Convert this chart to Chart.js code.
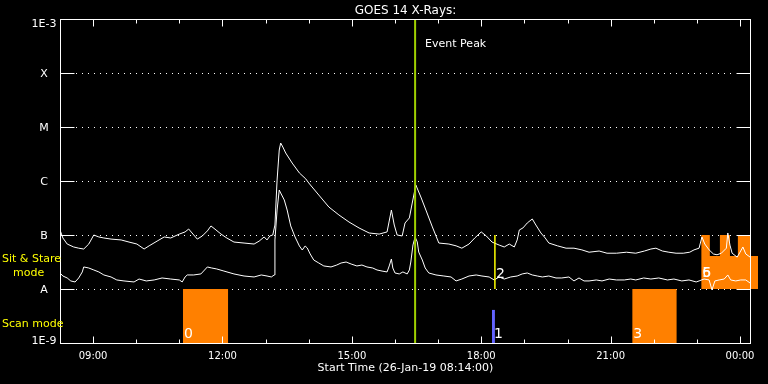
<!DOCTYPE html>
<html>
<head>
<meta charset="utf-8">
<script src="https://cdn.jsdelivr.net/npm/chart.js@4.4.1/dist/chart.umd.min.js"></script>
<style>
  html, body { margin: 0; padding: 0; background: #000; }
  canvas { display: block; }
</style>
</head>
<body>
<canvas id="goesChart" width="768" height="384"></canvas>
<script>
// times are minutes after the start time, 26-Jan-19 08:14:00
const END_MIN = 960;

// 1-8 A channel (upper curve)
const longTimes = [
  0, 4, 10, 19, 26, 33, 40, 47, 54, 61,
  71, 85, 96, 107, 117, 124, 135, 145, 154, 166,
  174, 179, 185, 191, 198, 205, 210, 217, 224, 232,
  242, 256, 270, 277, 284, 288, 292, 296, 299, 302,
  305, 307, 310, 314, 323, 333, 342, 346, 360, 374,
  388, 402, 416, 430, 444, 455, 461, 465, 469, 476,
  480, 486, 490, 495, 502, 509, 518, 527, 541, 551,
  559, 569, 577, 586, 593, 601, 611, 618, 625, 632,
  636, 639, 644, 650, 657, 662, 669, 675, 680, 692,
  704, 715, 726, 736, 750, 761, 774, 788, 801, 813,
  822, 829, 838, 847, 857, 867, 876, 882, 889, 893,
  897, 903, 909, 914, 920, 927, 929, 932, 935, 942,
  946, 950, 954, 960
];
const longFlux = [
  1.24e-7, 8.8e-8, 6.8e-8, 6.0e-8, 5.7e-8, 5.5e-8, 6.8e-8, 1.0e-7, 9.2e-8, 8.8e-8,
  8.4e-8, 8.1e-8, 7.4e-8, 6.8e-8, 5.5e-8, 6.3e-8, 7.7e-8, 9.2e-8, 8.8e-8, 1.04e-7,
  1.14e-7, 1.29e-7, 1.04e-7, 8.4e-8, 9.6e-8, 1.19e-7, 1.47e-7, 1.24e-7, 1.04e-7, 8.8e-8,
  7.4e-8, 7.1e-8, 6.8e-8, 7.7e-8, 9.2e-8, 8.1e-8, 9.6e-8, 1.0e-7, 1.53e-7, 1.04e-6,
  3.75e-6, 5.05e-6, 4.26e-6, 3.30e-6, 2.15e-6, 1.41e-6, 1.09e-6, 9.2e-7, 5.5e-7, 3.3e-7,
  2.35e-7, 1.74e-7, 1.35e-7, 1.09e-7, 1.04e-7, 1.14e-7, 2.9e-7, 1.53e-7, 1.0e-7, 9.6e-8,
  1.67e-7, 2.07e-7, 3.91e-7, 8.43e-7, 5.05e-7, 2.9e-7, 1.41e-7, 7.1e-8, 6.8e-8, 6.3e-8,
  5.7e-8, 6.8e-8, 8.8e-8, 1.14e-7, 9.6e-8, 7.4e-8, 6.5e-8, 6.0e-8, 6.8e-8, 6.0e-8,
  8.1e-8, 1.24e-7, 1.35e-7, 1.67e-7, 1.98e-7, 1.53e-7, 1.09e-7, 8.8e-8, 7.1e-8, 6.3e-8,
  5.7e-8, 5.7e-8, 5.3e-8, 4.8e-8, 5.05e-8, 4.6e-8, 4.6e-8, 4.8e-8, 4.6e-8, 5.05e-8,
  5.5e-8, 5.7e-8, 5.05e-8, 4.8e-8, 4.6e-8, 4.6e-8, 4.8e-8, 5.3e-8, 5.7e-8, 9.2e-8,
  6.8e-8, 5.3e-8, 4.45e-8, 4.3e-8, 4.6e-8, 5.7e-8, 1.09e-7, 6.5e-8, 4.6e-8, 3.9e-8,
  4.8e-8, 6.0e-8, 4.45e-8, 3.9e-8
];

// 0.5-4 A channel (lower curve)
const shortTimes = [
  0, 4, 10, 15, 21, 26, 31, 33, 40, 47,
  54, 61, 71, 79, 89, 103, 110, 120, 131, 142,
  154, 166, 170, 174, 177, 186, 196, 205, 211, 218,
  228, 242, 256, 270, 280, 288, 294, 298, 299, 302,
  305, 307, 312, 316, 321, 327, 333, 337, 341, 344,
  348, 353, 360, 367, 377, 385, 391, 398, 405, 413,
  420, 427, 435, 441, 448, 455, 458, 461, 463, 466,
  472, 477, 483, 486, 488, 491, 494, 497, 499, 504,
  508, 513, 523, 534, 544, 551, 559, 569, 579, 587,
  597, 604, 611, 618, 627, 636, 643, 650, 657, 664,
  671, 680, 690, 698, 708, 715, 722, 729, 736, 746,
  754, 764, 774, 785, 794, 801, 812, 822, 833, 845,
  854, 865, 875, 885, 889, 896, 903, 907, 911, 917,
  924, 929, 933, 940, 947, 954, 960
];
const shortFlux = [
  1.98e-8, 1.74e-8, 1.60e-8, 1.41e-8, 1.35e-8, 1.60e-8, 2.07e-8, 2.56e-8, 2.45e-8, 2.25e-8,
  2.07e-8, 1.82e-8, 1.67e-8, 1.47e-8, 1.41e-8, 1.35e-8, 1.53e-8, 1.41e-8, 1.47e-8, 1.60e-8,
  1.53e-8, 1.47e-8, 1.35e-8, 1.67e-8, 1.82e-8, 1.82e-8, 1.90e-8, 2.56e-8, 2.45e-8, 2.35e-8,
  2.15e-8, 1.90e-8, 1.74e-8, 1.67e-8, 1.82e-8, 1.74e-8, 1.67e-8, 1.82e-8, 8.08e-8, 2.9e-7,
  6.8e-7, 6.0e-7, 4.45e-7, 2.9e-7, 1.47e-7, 9.18e-8, 6.26e-8, 5.27e-8, 6.26e-8, 5.74e-8,
  4.45e-8, 3.44e-8, 3.03e-8, 2.67e-8, 2.56e-8, 2.78e-8, 3.03e-8, 3.16e-8, 2.90e-8, 2.67e-8,
  2.78e-8, 2.56e-8, 2.45e-8, 2.25e-8, 2.15e-8, 2.07e-8, 2.67e-8, 3.59e-8, 2.45e-8, 1.98e-8,
  1.90e-8, 2.07e-8, 1.90e-8, 2.25e-8, 3.16e-8, 6.53e-8, 9.18e-8, 7.42e-8, 4.84e-8, 3.44e-8,
  2.45e-8, 1.98e-8, 1.82e-8, 1.74e-8, 1.67e-8, 1.41e-8, 1.53e-8, 1.74e-8, 1.82e-8, 1.74e-8,
  1.67e-8, 1.47e-8, 1.67e-8, 1.53e-8, 1.67e-8, 1.74e-8, 1.90e-8, 1.98e-8, 1.82e-8, 1.74e-8,
  1.67e-8, 1.74e-8, 1.60e-8, 1.60e-8, 1.67e-8, 1.41e-8, 1.60e-8, 1.41e-8, 1.41e-8, 1.47e-8,
  1.41e-8, 1.53e-8, 1.47e-8, 1.47e-8, 1.53e-8, 1.47e-8, 1.60e-8, 1.53e-8, 1.60e-8, 1.47e-8,
  1.53e-8, 1.41e-8, 1.47e-8, 1.35e-8, 1.41e-8, 1.53e-8, 1.47e-8, 9.6e-9, 1.41e-8, 1.47e-8,
  1.53e-8, 1.82e-8, 1.47e-8, 1.41e-8, 1.47e-8, 1.47e-8, 1.29e-8
];

// observing modes
const peakTime = 494;
const scanStart = [171, 796];
const scanEnd = [234, 858];
const scanLabels = ['0', '3'];
const shortScanStart = 601, shortScanEnd = 605, shortScanTop = 4.1e-9;
const stareLineTime = 605;
const stareTimes = [892, 904, 918, 932, 943, 960, 971];
const stareTop = [1e-7, 4.1e-8, 1e-7, 4.1e-8, 1e-7, 4.1e-8, 4.1e-8];

// axes
const fluxTicks = [1e-9, 1e-8, 1e-7, 1e-6, 1e-5, 1e-4, 1e-3];
const fluxTickLabels = ['1E-9', 'A', 'B', 'C', 'M', 'X', '1E-3'];
const timeTicks = [46, 226, 406, 586, 766, 946];
const timeTickLabels = ['09:00', '12:00', '15:00', '18:00', '21:00', '00:00'];

const ORANGE = '#ff8000';
const FONT = '"DejaVu Sans", sans-serif';

function pts(xs, ys) {
    return xs.map((x, i) => ({ x: x, y: ys[i] }));
}

function block(x0, x1, top, bottom, color) {
    return {
        data: [{ x: x0, y: top }, { x: x1, y: top }],
        fill: { value: bottom },
        backgroundColor: color,
        borderColor: 'rgba(0,0,0,0)',
        borderWidth: 0
    };
}

const datasets = [
    { label: 'Event Peak', data: [{ x: peakTime, y: 1e-9 }, { x: peakTime, y: 1e-3 }], borderColor: '#a0d000', borderWidth: 2 },
    { label: 'Stare 2', data: [{ x: stareLineTime, y: 1e-8 }, { x: stareLineTime, y: 1e-7 }], borderColor: '#ffff00', borderWidth: 1.5 },
    { label: '1-8 A', data: pts(longTimes, longFlux), borderColor: '#ffffff', borderWidth: 1 },
    { label: '0.5-4 A', data: pts(shortTimes, shortFlux), borderColor: '#ffffff', borderWidth: 1 },
    block(shortScanStart, shortScanEnd, shortScanTop, 1e-9, '#6464ff'),
    block(scanStart[0], scanEnd[0], 1e-8, 1e-9, ORANGE),
    block(scanStart[1], scanEnd[1], 1e-8, 1e-9, ORANGE),
    {
        label: 'Sit & Stare',
        data: pts(stareTimes, stareTop),
        stepped: true,
        fill: { value: 1e-8 },
        backgroundColor: ORANGE,
        borderColor: 'rgba(0,0,0,0)',
        borderWidth: 0
    }
];

function text(ctx, str, x, y, size, color, align) {
    ctx.font = size + 'px ' + FONT;
    ctx.fillStyle = color;
    ctx.textAlign = align || 'left';
    ctx.textBaseline = 'alphabetic';
    ctx.fillText(str, x, y);
}

const goesFrame = {
    id: 'goesFrame',
    beforeDraw(chart) {
        const ctx = chart.ctx;
        ctx.save();
        ctx.fillStyle = '#000';
        ctx.fillRect(0, 0, chart.width, chart.height);
        ctx.restore();
    },
    beforeDatasetsDraw(chart) {
        const ctx = chart.ctx, xs = chart.scales.x, ys = chart.scales.y;
        const left = chart.chartArea.left, right = Math.round(xs.getPixelForValue(END_MIN));
        ctx.save();
        ctx.strokeStyle = '#fff';
        ctx.lineWidth = 1;
        ctx.setLineDash([1, 5]);
        fluxTicks.slice(1, -1).forEach(v => {
            const y = Math.round(ys.getPixelForValue(v)) + 0.5;
            ctx.beginPath();
            ctx.moveTo(left + 16, y);
            ctx.lineTo(right - 14, y);
            ctx.stroke();
        });
        ctx.restore();
    },
    afterDatasetsDraw(chart) {
        const ctx = chart.ctx, xs = chart.scales.x, ys = chart.scales.y;
        const left = chart.chartArea.left + 0.5;
        const right = Math.round(xs.getPixelForValue(END_MIN)) + 0.5;
        const top = chart.chartArea.top + 0.5;
        const bottom = chart.chartArea.bottom + 0.5;
        ctx.save();
        ctx.strokeStyle = '#fff';
        ctx.lineWidth = 1;
        ctx.strokeRect(left, top, right - left, bottom - top);

        ctx.beginPath();
        fluxTicks.slice(1, -1).forEach(v => {
            const y = Math.round(ys.getPixelForValue(v)) + 0.5;
            ctx.moveTo(left, y); ctx.lineTo(left + 14, y);
            ctx.moveTo(right - 14, y); ctx.lineTo(right, y);
        });
        for (let m = timeTicks[0]; m <= END_MIN; m += 60) {
            const x = Math.round(xs.getPixelForValue(m)) + 0.5;
            const len = timeTicks.includes(m) ? 7 : 4;
            ctx.moveTo(x, bottom); ctx.lineTo(x, bottom - len);
            ctx.moveTo(x, top); ctx.lineTo(x, top + len);
        }
        ctx.stroke();

        // flux level labels
        fluxTicks.forEach((v, i) => {
            let y = ys.getPixelForValue(v) + 4;
            if (i === 0) y -= 3;
            if (i === fluxTicks.length - 1) y += 4;
            text(ctx, fluxTickLabels[i], 44, y, 11, '#fff', 'center');
        });
        timeTicks.forEach((m, i) => {
            text(ctx, timeTickLabels[i], xs.getPixelForValue(m), 359, 10, '#fff', 'center');
        });
        const mid = (left + right) / 2;
        text(ctx, 'GOES 14 X-Rays:', mid, 14, 12, '#fff', 'center');
        text(ctx, 'Start Time (26-Jan-19 08:14:00)', mid, 371, 11, '#fff', 'center');
        text(ctx, 'Event Peak', xs.getPixelForValue(peakTime) + 10, 47, 11, '#fff');

        text(ctx, 'Sit & Stare', 2, 262, 11, '#ffff00');
        text(ctx, 'mode', 13, 276, 11, '#ffff00');
        text(ctx, 'Scan mode', 2, 327, 11, '#ffff00');

        // mode numbers
        const base = ys.getPixelForValue(1e-9) - 5;
        scanStart.forEach((m, i) => {
            text(ctx, scanLabels[i], xs.getPixelForValue(m) + 1, base, 14, '#fff');
        });
        text(ctx, '1', xs.getPixelForValue(shortScanEnd) - 1, base, 14, '#fff');
        text(ctx, '2', xs.getPixelForValue(stareLineTime) + 1, 278, 14, '#fff');
        text(ctx, '5', xs.getPixelForValue(stareTimes[0]) + 1, 277, 14, '#fff');
        text(ctx, '6', xs.getPixelForValue(stareTimes[0]) + 1, 277, 14, '#fff');
        ctx.restore();
    }
};

new Chart(document.getElementById('goesChart'), {
    type: 'line',
    data: { datasets: datasets },
    options: {
        responsive: false,
        animation: false,
        events: [],
        layout: { padding: { left: 60, top: 19, right: 10, bottom: 41 } },
        elements: {
            point: { radius: 0 },
            line: { tension: 0 }
        },
        scales: {
            x: { type: 'linear', min: 0, max: 971, display: false },
            y: { type: 'logarithmic', min: 1e-9, max: 1e-3, display: false }
        },
        plugins: {
            legend: { display: false },
            tooltip: { enabled: false }
        }
    },
    plugins: [goesFrame]
});
</script>
</body>
</html>
